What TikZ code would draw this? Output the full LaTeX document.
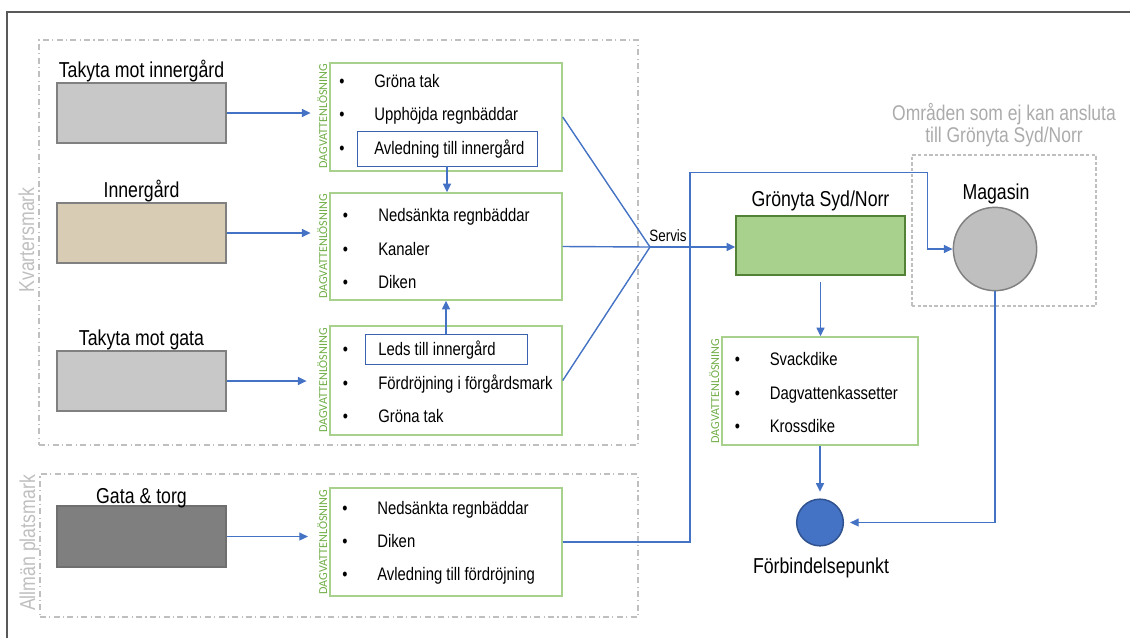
\documentclass[tikz,border=0pt]{standalone}
\usepackage{fontspec}
\setmainfont{Liberation Sans}[FakeStretch=0.82]
\newfontfamily\dagfont{Carlito}
\usetikzlibrary{arrows.meta,fit,calc}
\definecolor{blueline}{HTML}{4472C4}
\definecolor{innerblue}{HTML}{3A62AE}
\definecolor{framegray}{HTML}{595959}
\definecolor{zonegray}{HTML}{BFBFBF}
\definecolor{omgray}{HTML}{ABABAB}
\definecolor{surfgray}{HTML}{C8C8C8}
\definecolor{surfedge}{HTML}{808080}
\definecolor{beige}{HTML}{D9CCB4}
\definecolor{darksurf}{HTML}{7F7F7F}
\definecolor{darkedge}{HTML}{6F6F6F}
\definecolor{greenfill}{HTML}{A9D18E}
\definecolor{greenedge}{HTML}{538135}
\definecolor{boxgreen}{HTML}{A9D18E}
\definecolor{daggreen}{HTML}{70AD47}
\definecolor{magfill}{HTML}{BFBFBF}
\definecolor{fpedge}{HTML}{2F528F}
\begin{document}
\begin{tikzpicture}[x=0.75pt,y=-0.75pt,
  lbl/.style={font=\fontsize{16.2}{19}\selectfont, inner sep=0, anchor=base},
  zonelbl/.style={font=\fontsize{16.2}{19}\selectfont, text=zonegray, inner sep=0, anchor=base, rotate=90},
  omlbl/.style={font=\fontsize{16}{19}\selectfont, text=omgray, inner sep=0, anchor=base},
  itemtxt/.style={font=\fontsize{13.6}{16}\selectfont, inner sep=0, anchor=base west},
  bul/.style={font=\fontsize{13.5}{16}\selectfont, inner sep=0, anchor=base},
  dag/.style={font=\dagfont\fontsize{9.1}{10}\selectfont, text=daggreen, rotate=90, anchor=base, inner sep=0},
  surf/.style={draw=surfedge, line width=1.1pt, inner sep=0},
  sol/.style={draw=boxgreen, line width=1.1pt, inner sep=0},
  innerbox/.style={draw=innerblue, line width=0.7pt, inner sep=0},
  zone/.style={draw=zonegray, line width=0.9pt, dash pattern=on 4.5pt off 2.5pt on 0.8pt off 2.5pt, inner sep=0},
  zonedash/.style={draw=zonegray, line width=1pt, dash pattern=on 2.6pt off 1.6pt, inner sep=0},
  conn/.style={draw=blueline, line width=1.05pt},
  arr/.style={draw=blueline, line width=1.05pt, -{Triangle[length=6.5pt,width=6pt]}},
  frame/.style={draw=framegray, line width=1.1pt}
]
\useasboundingbox (0,0) rectangle (1130,637);

% outer frame (partially visible)
\draw[frame] (7,660) -- (7,12) -- (1150,12);

% zones
\node[zone, fit={(39,40)(638,445)}] (kv) {};
\node[zone, fit={(40,474)(638,617)}] (ap) {};
\node[zonelbl] (kvl) at (34,240) {Kvartersmark};
\node[zonelbl] (apl) at (35,543) {Allmän platsmark};
\node[zonedash, fit={(912,155)(1096,306)}] (om) {};
\node[omlbl] (oml1) at (1004,120.7) {Områden som ej kan ansluta};
\node[omlbl] (oml2) at (1004,142.7) {till Grönyta Syd/Norr};

% surfaces
\node[surf, fill=surfgray, fit={(57,83)(226,143)}] (s1) {};
\node[lbl] (s1l) at (141.5,77) {Takyta mot innergård};
\node[surf, fill=beige, fit={(57,203)(226,263)}] (s2) {};
\node[lbl] (s2l) at (141.5,197) {Innergård};
\node[surf, fill=surfgray, fit={(57,351)(226,411)}] (s3) {};
\node[lbl] (s3l) at (141.5,345) {Takyta mot gata};
\node[draw=darkedge, line width=1.1pt, inner sep=0, fill=darksurf, fit={(57,506)(226,567)}] (s4) {};
\node[lbl] (s4l) at (141.5,503) {Gata \& torg};

% solution boxes
\node[sol, fit={(330,63)(562,171)}] (b1) {};
\node[sol, fit={(330,193)(562,300)}] (b2) {};
\node[sol, fit={(330,326)(562,435)}] (b3) {};
\node[sol, fit={(330,488)(562,596)}] (b4) {};
\node[sol, fit={(722,337)(918,445)}] (b5) {};

\node[dag] (d1) at (327,116) {DAGVATTENLÖSNING};
\node[dag] (d2) at (327,246.5) {DAGVATTENLÖSNING};
\node[dag] (d3) at (327,380.5) {DAGVATTENLÖSNING};
\node[dag] (d4) at (327,542) {DAGVATTENLÖSNING};
\node[dag] (d5) at (719,391) {DAGVATTENLÖSNING};

% inner blue boxes
\node[innerbox, fit={(357,131)(537,166)}] (av) {};
\node[innerbox, fit={(365,334)(527,364)}] (ld) {};

% items
\foreach \t [count=\i] in {Gröna tak, Upphöjda regnbäddar, Avledning till innergård} {
  \node[bul] (b1b\i) at ({342},{87.3+33.5*(\i-1)}) {•};
  \node[itemtxt] (b1t\i) at ({374},{87.3+33.5*(\i-1)}) {\t};
}
\foreach \t [count=\i] in {Nedsänkta regnbäddar, Kanaler, Diken} {
  \node[bul] (b2b\i) at ({345.5},{221.7+33.3*(\i-1)}) {•};
  \node[itemtxt] (b2t\i) at ({378},{221.7+33.3*(\i-1)}) {\t};
}
\foreach \t [count=\i] in {Leds till innergård, Fördröjning i förgårdsmark, Gröna tak} {
  \node[bul] (b3b\i) at ({345.5},{355.5+33.6*(\i-1)}) {•};
  \node[itemtxt] (b3t\i) at ({378},{355.5+33.6*(\i-1)}) {\t};
}
\foreach \t [count=\i] in {Nedsänkta regnbäddar, Diken, Avledning till fördröjning} {
  \node[bul] (b4b\i) at ({345},{514+33.4*(\i-1)}) {•};
  \node[itemtxt] (b4t\i) at ({377},{514+33.4*(\i-1)}) {\t};
}
\foreach \t [count=\i] in {Svackdike, Dagvattenkassetter, Krossdike} {
  \node[bul] (b5b\i) at ({737.5},{365.7+33.3*(\i-1)}) {•};
  \node[itemtxt] (b5t\i) at ({769.5},{365.7+33.3*(\i-1)}) {\t};
}

% right side elements
\node[draw=greenedge, line width=1.1pt, inner sep=0, fill=greenfill, fit={(736,216)(905,275)}] (gr) {};
\node[lbl] (grl) at (820.5,206.7) {Grönyta Syd/Norr};
\node[circle, draw=surfedge, line width=1.1pt, fill=magfill, minimum size=62.5pt, inner sep=0] (mag) at (995,249) {};
\node[lbl] (magl) at (996,199) {Magasin};
\node[circle, draw=fpedge, line width=1.1pt, fill=blueline, minimum size=35pt, inner sep=0] (fp) at (820,522.5) {};
\node[lbl] (fpl) at (821,573) {Förbindelsepunkt};

% connectors
\draw[arr, shorten >=14pt] (s1.east) -- (s1.east -| b1.west);
\draw[arr, shorten >=14pt] (s2.east) -- (s2.east -| b2.west);
\draw[arr, shorten >=17pt] (s3.east) -- (s3.east -| b3.west);
\draw[arr, shorten >=16pt] (s4.east) -- (s4.east -| b4.west);

\draw[arr] (av.south) -- (av.south |- b2.north);
\draw[arr] (ld.north) -- (ld.north |- b2.south);

\coordinate (sv) at (650,247);
\draw[conn] (b1.east) -- (sv);
\draw[conn] (b2.east) -- (sv);
\draw[conn] (b3.east) -- (sv);
\node[font=\fontsize{12.3}{14}\selectfont, inner sep=0, anchor=base] (svl) at (668,241.7) {Servis};
\draw[arr] (sv) -- (sv -| gr.west);

\coordinate (c1) at (690,172.5);
\coordinate (c2) at (927.5,172.5);
\draw[arr] (b4.east) -| (c1) -- (c2) |- (mag.west);

\draw[arr, shorten <=5pt] (gr.south) -- (gr.south |- b5.north);
\draw[arr, shorten >=5pt] (b5.south) -- (b5.south |- fp.north);
\draw[arr, shorten >=4.5pt] (mag.south) |- (fp.east);
\end{tikzpicture}
\end{document}
